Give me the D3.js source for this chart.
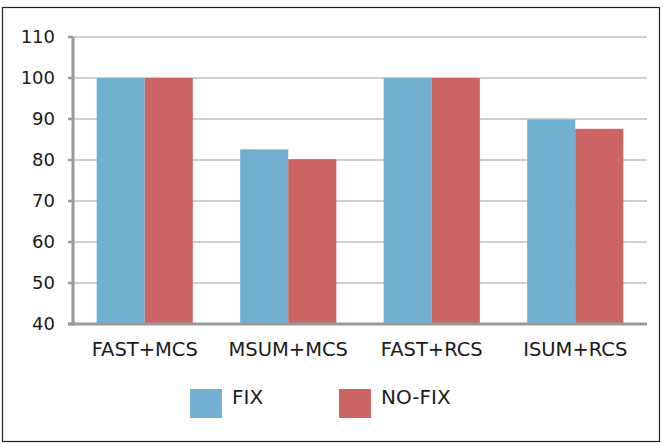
<!DOCTYPE html>
<html><head><meta charset="utf-8">
<script src="https://cdn.jsdelivr.net/npm/d3@7"></script>
<style>body{margin:0;background:#fff}svg{display:block}text{font-family:"DejaVu Sans",sans-serif;fill:#1a1a1a}</style>
</head><body>
<svg id="c" width="663" height="444"></svg>
<script>
const categories = ["FAST+MCS","MSUM+MCS","FAST+RCS","ISUM+RCS"];
const seriesNames = ["FIX","NO-FIX"];
const fixValues = [100, 82.6, 100, 89.9];
const noFixValues = [100, 80.2, 100, 87.6];
const yTicks = [40,50,60,70,80,90,100,110];
const colors = ["#71B0D1","#CD6464"];

const svg = d3.select("#c");
svg.append("rect").attr("x",2.5).attr("y",7.5).attr("width",657).attr("height",434)
  .attr("fill","#fff").attr("stroke","#222").attr("stroke-width",1.2);

const m = {l:73, r:647, t:37, b:324};
const x = d3.scaleBand().domain(categories).range([m.l,m.r]).paddingInner(0.33).paddingOuter(0.165);
const xs = d3.scaleBand().domain(seriesNames).range([0,x.bandwidth()]);
const y = d3.scaleLinear().domain([40,110]).range([m.b,m.t]);

// gridlines
svg.append("g").selectAll("line").data(yTicks.slice(1)).join("line")
  .attr("x1",m.l-5).attr("x2",m.r).attr("y1",d=>y(d)).attr("y2",d=>y(d))
  .attr("stroke","#a0a0a0").attr("stroke-width",1.2);

const data = categories.map((c,i)=>({c, vals:[fixValues[i], noFixValues[i]]}));
const g = svg.append("g").selectAll("g").data(data).join("g")
  .attr("transform",d=>`translate(${x(d.c)},0)`);
g.selectAll("rect").data(d=>d.vals.map((v,j)=>({v,s:seriesNames[j],j}))).join("rect")
  .attr("x",d=>xs(d.s)).attr("width",xs.bandwidth())
  .attr("y",d=>y(d.v)).attr("height",d=>y(40)-y(d.v))
  .attr("fill",d=>colors[d.j]);

// axes
svg.append("line").attr("x1",m.l).attr("x2",m.l).attr("y1",m.t).attr("y2",m.b+1.5)
  .attr("stroke","#999").attr("stroke-width",3);
svg.append("line").attr("x1",m.l-5).attr("x2",m.r).attr("y1",m.b).attr("y2",m.b)
  .attr("stroke","#999").attr("stroke-width",3);
svg.append("g").selectAll("line").data(yTicks).join("line")
  .attr("x1",m.l-5).attr("x2",m.l).attr("y1",d=>y(d)).attr("y2",d=>y(d))
  .attr("stroke","#999").attr("stroke-width",2.5);

svg.append("g").selectAll("text").data(yTicks).join("text")
  .attr("x",55).attr("y",d=>y(d)).attr("dy","0.36em").attr("text-anchor","end")
  .attr("font-size",18).text(d=>d);

svg.append("g").selectAll("text").data(categories).join("text")
  .attr("x",d=>x(d)+x.bandwidth()/2).attr("y",356).attr("text-anchor","middle")
  .attr("font-size",19.5).text(d=>d);

// legend
const leg = svg.append("g").selectAll("g").data(seriesNames).join("g")
  .attr("transform",(d,i)=>`translate(${190+i*149},389)`);
leg.append("rect").attr("width",32).attr("height",29).attr("fill",(d,i)=>colors[i]);
leg.append("text").attr("x",42).attr("y",15).attr("font-size",20).attr("y",15).text(d=>d);
</script>
</body></html>
